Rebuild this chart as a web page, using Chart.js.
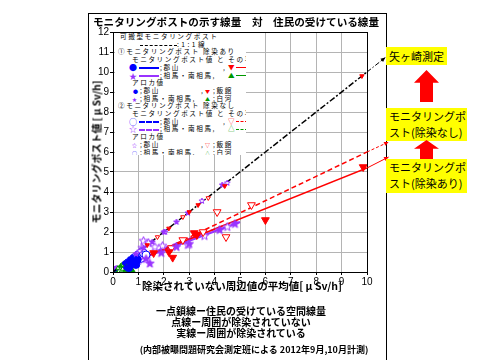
<!DOCTYPE html>
<html>
<head>
<meta charset="utf-8">
<script src="https://cdn.jsdelivr.net/npm/chart.js@4"></script>
<style>
  body { margin: 0; width: 480px; height: 360px; position: relative; overflow: hidden; background: #fff;
         font-family: "Noto Sans CJK JP", sans-serif; color: #000; }
  #frame { position: absolute; left: 88px; top: 13px; width: 297px; height: 400px; border: 1px solid #000; }
  #chart { position: absolute; left: 0; top: 0; }
  .t { position: absolute; white-space: nowrap; }
  .title { left: 236px; top: 14px; transform: translateX(-50%); font-size: 10.6px; font-weight: bold; }
  .ytitle { left: 96px; top: 152px; transform: translate(-50%, -50%) rotate(-90deg); font-size: 10px; font-weight: bold; }
  .xtitle { left: 242px; top: 278px; transform: translateX(-50%); font-size: 10.5px; font-weight: bold; }
  .note { left: 241px; transform: translateX(-50%); font-size: 10px; font-weight: bold; line-height: 11px; }
  .src { left: 254px; top: 343px; transform: translateX(-50%); font-size: 9px; font-weight: bold; }
  #legend { position: absolute; left: 115px; top: 33px; width: 131px; height: 122px; background: #fff;
            overflow: hidden; font-size: 6.6px; line-height: 7.7px; letter-spacing: 1.6px; }
  #legend .r { position: absolute; left: 0; height: 7.7px; width: 200px; }
  #legend span { position: absolute; top: 0; white-space: nowrap; }
  .box { position: absolute; background: #ffff00; font-size: 11px; line-height: 16px; padding-left: 3px; white-space: nowrap; }
  .arrow { position: absolute; width: 25px; background: #ff0000;
           clip-path: polygon(50% 0, 100% 40%, 76% 40%, 76% 100%, 24% 100%, 24% 40%, 0 40%); }
</style>
</head>
<body>
<div id="frame"></div>
<canvas id="chart" width="480" height="360"></canvas>

<div class="t title">モニタリングポストの示す線量　対　住民の受けている線量</div>
<div class="t ytitle">モニタリングポスト値 [ μ Sv/h]</div>
<div class="t xtitle">除染されていない周辺値の平均値[ μ Sv/h]</div>
<div class="t note" style="top:305px">一点鎖線ー住民の受けている空間線量</div>
<div class="t note" style="top:316px">点線ー周囲が除染されていない</div>
<div class="t note" style="top:327px">実線ー周囲が除染されている</div>
<div class="t src">(内部被曝問題研究会測定班による 2012年9月,10月計測)</div>

<div id="legend">
  <div class="r" style="top:0"><span style="left:5px">可搬型モニタリングポスト</span></div>
  <div class="r" style="top:7.7px"><span style="left:25px;top:4px;width:37px;border-top:1.5px dashed #000"></span><span style="left:62px;letter-spacing:0.5px">: 1 : 1 線</span></div>
  <div class="r" style="top:15.4px"><span style="left:3px">①モニタリングポスト 除染あり</span></div>
  <div class="r" style="top:23.1px"><span style="left:17px">モニタリングポスト値 と その平均直線</span></div>
  <div class="r" style="top:30.8px"><span style="left:14px;color:#0000ff;font-size:8px">●</span><span style="left:24px;top:3.5px;width:20px;border-top:2px solid #0000ff"></span><span style="left:45px">;郡山</span><span style="left:108px">,</span><span style="left:113px;color:#ff0000">▼</span><span style="left:121px;top:3.5px;width:12px;border-top:1.5px solid #ff0000"></span><span style="left:133px">;飯館</span></div>
  <div class="r" style="top:38.5px"><span style="left:14px;color:#9933ff;font-size:8px">★</span><span style="left:24px;top:3.5px;width:20px;border-top:2px solid #9933ff"></span><span style="left:45px">;相馬・南相馬,</span><span style="left:113px;color:#009900">▲</span><span style="left:121px;top:3.5px;width:12px;border-top:1.5px solid #009900"></span><span style="left:133px">;白河</span></div>
  <div class="r" style="top:46.2px"><span style="left:17px">アロカ値</span></div>
  <div class="r" style="top:53.9px"><span style="left:18px;color:#0000ff;font-size:5px">●</span><span style="left:25px">;郡山</span><span style="left:86px">,</span><span style="left:90px;color:#ff0000;font-size:5px">▼</span><span style="left:98px">;飯館</span></div>
  <div class="r" style="top:61.6px"><span style="left:17px;color:#9933ff;font-size:5px">★</span><span style="left:25px">;相馬・南相馬,</span><span style="left:90px;color:#009900;font-size:5px">▲</span><span style="left:98px">;白河</span></div>
  <div class="r" style="top:69.3px"><span style="left:3px">②モニタリングポスト 除染なし</span></div>
  <div class="r" style="top:77px"><span style="left:17px">モニタリングポスト値 と その平均直線</span></div>
  <div class="r" style="top:84.7px"><span style="left:14px;color:#0000ff;font-size:8px">○</span><span style="left:24px;top:3.5px;width:20px;border-top:2px dashed #0000ff"></span><span style="left:45px">;郡山</span><span style="left:108px">,</span><span style="left:113px;color:#ff0000">▽</span><span style="left:121px;top:3.5px;width:12px;border-top:1.5px dashed #ff0000"></span><span style="left:133px">;飯館</span></div>
  <div class="r" style="top:92.4px"><span style="left:14px;color:#9933ff;font-size:8px">☆</span><span style="left:24px;top:3.5px;width:20px;border-top:2px dashed #9933ff"></span><span style="left:45px">;相馬・南相馬,</span><span style="left:113px;color:#009900">△</span><span style="left:121px;top:3.5px;width:12px;border-top:1.5px dashed #009900"></span><span style="left:133px">;白河</span></div>
  <div class="r" style="top:100.1px"><span style="left:17px">アロカ値</span></div>
  <div class="r" style="top:107.8px"><span style="left:17px;color:#9933ff;font-size:5px">☆</span><span style="left:25px">;郡山</span><span style="left:86px">,</span><span style="left:90px;color:#ff0000;font-size:5px">▽</span><span style="left:98px">;飯館</span></div>
  <div class="r" style="top:115.5px"><span style="left:17px;color:#0000ff;font-size:5px">○</span><span style="left:25px">;相馬・南相馬,</span><span style="left:90px;color:#009900;font-size:5px">△</span><span style="left:98px">;白河</span></div>
</div>

<div class="box" style="left:386px;top:47px;width:58px;height:18px;line-height:18px">矢ヶ崎測定</div>
<div class="arrow" style="left:414px;top:70px;height:32px"></div>
<div class="box" style="left:386px;top:108px;width:78px;height:33px">モニタリングポ<br>スト(除染なし)</div>
<div class="arrow" style="left:414px;top:140px;height:22px"></div>
<div class="box" style="left:386px;top:159px;width:78px;height:34px">モニタリングポ<br>スト(除染あり)</div>

<script>
// ---- monitoring-post values vs. surrounding average (filled = 除染あり) ----
const koriyamaX = [0.55, 0.62, 0.7, 0.75, 0.85, 0.9, 0.95];
const koriyamaY = [0.3, 0.22, 0.4, 0.48, 0.55, 0.38, 0.62];
const iitateX = [1.6, 2.2, 2.35, 3.2, 3.3, 6.0, 9.85];
const iitateY = [0.95, 1.0, 0.72, 1.95, 1.85, 2.6, 5.25];
const somaX = [1.0, 1.3, 1.45, 1.9, 2.5, 3.0, 4.2, 4.8];
const somaY = [0.6, 0.65, 0.42, 0.95, 1.25, 1.4, 2.1, 2.4];
const shirakawaX = [0.55, 0.65, 0.72];
const shirakawaY = [0.15, 0.2, 0.1];

// ---- hollow = 除染なし ----
const koriyamaOpenX = [0.8, 0.9, 1.0, 1.1, 1.2, 1.3];
const koriyamaOpenY = [0.6, 0.7, 0.85, 0.68, 0.95, 0.85];
const iitateOpenX = [2.3, 2.75, 3.55, 4.1, 4.45, 5.45];
const iitateOpenY = [1.2, 1.6, 2.0, 3.0, 1.75, 3.35];
const somaOpenX = [1.15, 1.2, 1.4, 1.65, 1.95, 2.95, 3.6, 4.5];
const somaOpenY = [1.2, 1.55, 1.45, 1.25, 1.3, 1.35, 1.8, 2.25];
const shirakawaOpenX = [0.3, 0.4, 0.45];
const shirakawaOpenY = [0.08, 0.12, 0.2];

// ---- Aloka readings (sit on the 1:1 line) ----
const alokaKoriyamaX = [0.45, 0.55, 0.65, 0.75];
const alokaKoriyamaY = [0.45, 0.55, 0.66, 0.75];
const alokaIitateX = [1.35, 2.2, 3.0, 3.35, 4.4, 9.8];
const alokaIitateY = [1.35, 2.18, 3.0, 3.35, 4.3, 9.8];
const alokaSomaX = [0.9, 1.2, 1.55, 2.0, 2.5, 2.95, 4.3];
const alokaSomaY = [0.9, 1.2, 1.5, 2.0, 2.5, 2.95, 4.35];
const alokaShirakawaX = [0.3, 0.45];
const alokaShirakawaY = [0.3, 0.45];
const alokaOpenStarX = [1.05, 2.05, 3.5, 4.5];
const alokaOpenStarY = [1.05, 2.0, 3.55, 4.45];
const alokaOpenIitateX = [1.75, 2.75, 3.75];
const alokaOpenIitateY = [1.75, 2.75, 3.7];
const alokaOpenCircleX = [0.8, 0.95, 1.1];
const alokaOpenCircleY = [0.8, 0.95, 1.1];
const alokaOpenShirakawaX = [0.2, 0.35];
const alokaOpenShirakawaY = [0.2, 0.35];

// ---- mean lines ----
const oneToOneX = [0, 10];
const oneToOneY = [0, 10];
const iitateLineX = [1.45, 10];
const iitateLineY = [0.85, 5.2];
const iitateOpenLineX = [2.2, 10];
const iitateOpenLineY = [1.25, 6.0];
const somaLineX = [0, 5];
const somaLineY = [0.15, 2.5];
const somaOpenLineX = [0, 5];
const somaOpenLineY = [0.22, 2.62];
const koriyamaLineX = [0, 1.0];
const koriyamaLineY = [0.02, 0.6];
const koriyamaOpenLineX = [0, 1.3];
const koriyamaOpenLineY = [0.05, 0.9];
const shirakawaLineX = [0, 0.7];
const shirakawaLineY = [0, 0.15];
const shirakawaOpenLineX = [0, 0.45];
const shirakawaOpenLineY = [0, 0.16];

const BLUE = '#0000ff', RED = '#ff0000', PURPLE = '#9933ff', GREEN = '#009900';

const pts = (xs, ys) => xs.map((x, i) => ({ x, y: ys[i] }));

function starImg(r, color, filled) {
  const c = document.createElement('canvas');
  const s = Math.ceil(r * 2 + 2);
  c.width = s; c.height = s;
  const g = c.getContext('2d');
  g.beginPath();
  for (let i = 0; i < 10; i++) {
    const a = -Math.PI / 2 + i * Math.PI / 5;
    const rr = i % 2 ? r * 0.42 : r;
    g.lineTo(s / 2 + rr * Math.cos(a), s / 2 + rr * Math.sin(a));
  }
  g.closePath();
  g.fillStyle = filled ? color : '#fff';
  g.fill();
  g.strokeStyle = color;
  g.lineWidth = 1;
  g.stroke();
  return c;
}

function marks(xs, ys, style, color, filled, r, rotation) {
  return {
    data: pts(xs, ys), showLine: false, order: 1,
    pointStyle: style, rotation: rotation || 0,
    pointRadius: r, pointHoverRadius: r,
    backgroundColor: filled ? color : '#fff', borderColor: color, borderWidth: 1,
  };
}

function line(xs, ys, color, width, dash) {
  return {
    data: pts(xs, ys), showLine: true, order: 2,
    pointRadius: 0, borderColor: color, borderWidth: width, borderDash: dash || [],
  };
}

const datasets = [
  // aloka (small)
  marks(alokaKoriyamaX, alokaKoriyamaY, 'circle', BLUE, true, 2),
  marks(alokaIitateX, alokaIitateY, 'triangle', RED, true, 2.5, 180),
  marks(alokaSomaX, alokaSomaY, starImg(3, PURPLE, true), PURPLE, true, 3),
  marks(alokaShirakawaX, alokaShirakawaY, 'triangle', GREEN, true, 2.5),
  marks(alokaOpenStarX, alokaOpenStarY, starImg(3, PURPLE, false), PURPLE, false, 3),
  marks(alokaOpenIitateX, alokaOpenIitateY, 'triangle', RED, false, 2.5, 180),
  marks(alokaOpenCircleX, alokaOpenCircleY, 'circle', BLUE, false, 2),
  marks(alokaOpenShirakawaX, alokaOpenShirakawaY, 'triangle', GREEN, false, 2.5),
  // monitoring posts (large)
  marks(koriyamaX, koriyamaY, 'circle', BLUE, true, 4),
  marks(iitateX, iitateY, 'triangle', RED, true, 4.5, 180),
  marks(somaX, somaY, starImg(4.5, PURPLE, true), PURPLE, true, 4.5),
  marks(shirakawaX, shirakawaY, 'triangle', GREEN, true, 4.5),
  marks(koriyamaOpenX, koriyamaOpenY, 'circle', BLUE, false, 4),
  marks(iitateOpenX, iitateOpenY, 'triangle', RED, false, 4.5, 180),
  marks(somaOpenX, somaOpenY, starImg(4.5, PURPLE, false), PURPLE, false, 4.5),
  marks(shirakawaOpenX, shirakawaOpenY, 'triangle', GREEN, false, 4.5),
  // lines
  line(oneToOneX, oneToOneY, '#000', 1.5, [6, 2, 2, 2]),
  line(iitateLineX, iitateLineY, RED, 1.5),
  line(iitateOpenLineX, iitateOpenLineY, RED, 1.5, [5, 3]),
  line(somaLineX, somaLineY, PURPLE, 2),
  line(somaOpenLineX, somaOpenLineY, PURPLE, 2, [5, 3]),
  line(koriyamaLineX, koriyamaLineY, BLUE, 2),
  line(koriyamaOpenLineX, koriyamaOpenLineY, BLUE, 2, [5, 3]),
  line(shirakawaLineX, shirakawaLineY, GREEN, 2),
  line(shirakawaOpenLineX, shirakawaOpenLineY, GREEN, 2, [5, 3]),
];

// black frame round the plot area
const plotBox = {
  id: 'plotBox',
  afterDraw(chart) {
    const { ctx, chartArea: a } = chart;
    ctx.save();
    ctx.strokeStyle = '#000';
    ctx.lineWidth = 1;
    ctx.strokeRect(a.left + 0.5, a.top + 0.5, a.right - a.left, a.bottom - a.top);
    ctx.restore();
  },
};

// thin pointer lines from the line ends out to the yellow labels
const pointers = {
  id: 'pointers',
  afterDraw(chart) {
    const { ctx, scales: { x, y } } = chart;
    const list = [
      { from: [10, 10], to: [10.72, 10.72], color: '#000', dash: [5, 2, 1.5, 2] },
      { from: [10, 6.0], to: [10.85, 6.5], color: RED, dash: [3, 2] },
      { from: [10, 5.2], to: [10.85, 5.75], color: RED, dash: [] },
    ];
    ctx.save();
    list.forEach((p) => {
      const x0 = x.getPixelForValue(p.from[0]), y0 = y.getPixelForValue(p.from[1]);
      const x1 = x.getPixelForValue(p.to[0]), y1 = y.getPixelForValue(p.to[1]);
      ctx.strokeStyle = p.color;
      ctx.fillStyle = p.color;
      ctx.lineWidth = 1;
      ctx.setLineDash(p.dash);
      ctx.beginPath(); ctx.moveTo(x0, y0); ctx.lineTo(x1, y1); ctx.stroke();
      ctx.setLineDash([]);
      const ang = Math.atan2(y1 - y0, x1 - x0);
      ctx.beginPath();
      ctx.moveTo(x1, y1);
      ctx.lineTo(x1 - 5 * Math.cos(ang - 0.45), y1 - 5 * Math.sin(ang - 0.45));
      ctx.lineTo(x1 - 5 * Math.cos(ang + 0.45), y1 - 5 * Math.sin(ang + 0.45));
      ctx.closePath();
      ctx.fill();
    });
    ctx.restore();
  },
};

const tickFont = { family: 'Arial, "Liberation Sans", sans-serif', size: 10 };

new Chart(document.getElementById('chart'), {
  type: 'scatter',
  data: { datasets },
  plugins: [plotBox, pointers],
  options: {
    responsive: false,
    animation: false,
    layout: { padding: { left: 93, right: 113, top: 32, bottom: 68 } },
    plugins: { legend: { display: false }, tooltip: { enabled: false } },
    scales: {
      x: {
        type: 'linear', min: 0, max: 10,
        afterFit: (s) => { s.height = 20; },
        ticks: { stepSize: 1, color: '#000', font: tickFont, padding: 1, maxRotation: 0 },
        grid: { color: '#b4b4b4', tickColor: '#000', tickLength: 3 },
        border: { color: '#000' },
      },
      y: {
        type: 'linear', min: 0, max: 12,
        afterFit: (s) => { s.width = 20; },
        ticks: { stepSize: 1, color: '#000', font: tickFont, padding: 1 },
        grid: { color: '#b4b4b4', tickColor: '#000', tickLength: 3 },
        border: { color: '#000' },
      },
    },
  },
});
</script>
</body>
</html>
